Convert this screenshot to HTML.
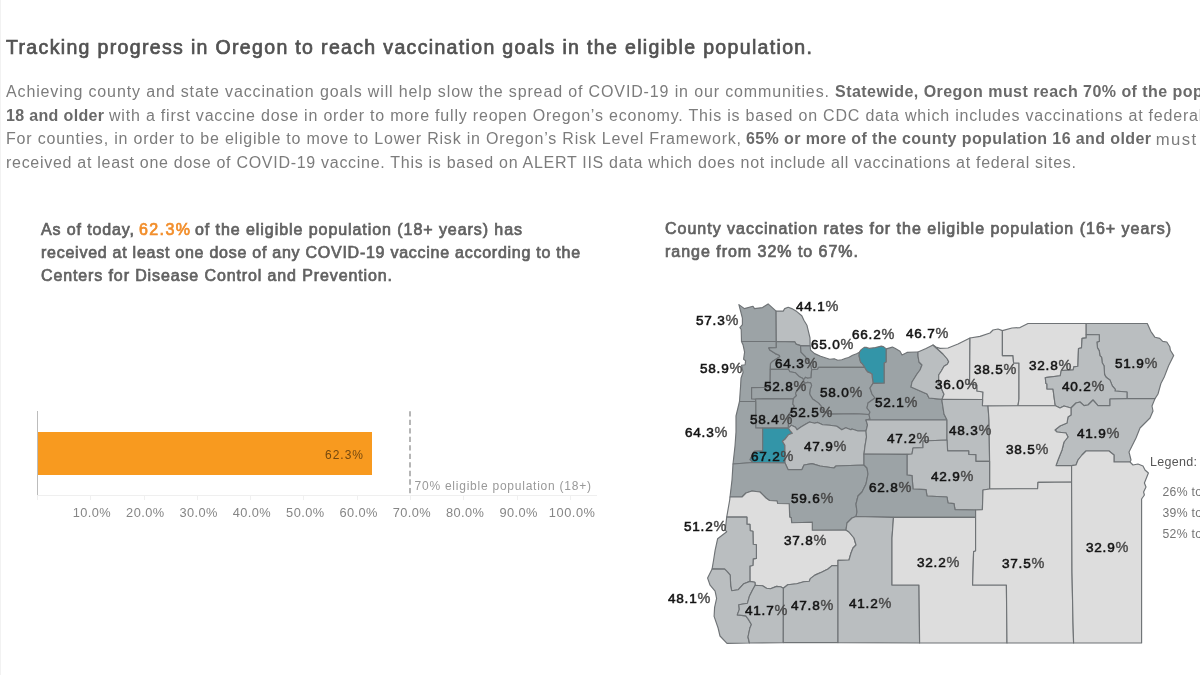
<!DOCTYPE html>
<html><head><meta charset="utf-8"><title>Oregon vaccination progress</title>
<style>
html,body{margin:0;padding:0;background:#fff;overflow:hidden}
body{width:1200px;height:675px;overflow:hidden;position:relative;font-family:"Liberation Sans",sans-serif}
.t{position:absolute;white-space:nowrap;line-height:1.149;font-family:"Liberation Sans",sans-serif}
</style></head><body>
<div style="position:absolute;left:0;top:0;width:1px;height:675px;background:#f2f2f2"></div>
<div style="position:absolute;left:37px;top:411px;width:1px;height:85px;background:#bcbcbc"></div>
<div style="position:absolute;left:37px;top:495px;width:560px;height:1px;background:#efefef"></div>
<div style="position:absolute;left:36.8px;top:496px;width:1px;height:4px;background:#f0f0f0"></div>
<div style="position:absolute;left:90.1px;top:496px;width:1px;height:4px;background:#f0f0f0"></div>
<div style="position:absolute;left:143.5px;top:496px;width:1px;height:4px;background:#f0f0f0"></div>
<div style="position:absolute;left:196.8px;top:496px;width:1px;height:4px;background:#f0f0f0"></div>
<div style="position:absolute;left:250.1px;top:496px;width:1px;height:4px;background:#f0f0f0"></div>
<div style="position:absolute;left:303.4px;top:496px;width:1px;height:4px;background:#f0f0f0"></div>
<div style="position:absolute;left:356.8px;top:496px;width:1px;height:4px;background:#f0f0f0"></div>
<div style="position:absolute;left:410.1px;top:496px;width:1px;height:4px;background:#f0f0f0"></div>
<div style="position:absolute;left:463.4px;top:496px;width:1px;height:4px;background:#f0f0f0"></div>
<div style="position:absolute;left:516.8px;top:496px;width:1px;height:4px;background:#f0f0f0"></div>
<div style="position:absolute;left:570.1px;top:496px;width:1px;height:4px;background:#f0f0f0"></div>
<div style="position:absolute;left:38px;top:432px;width:334px;height:42.5px;background:#f89a1f"></div>
<svg style="position:absolute;left:405px;top:408px" width="10" height="90"><line x1="5" y1="3.2" x2="5" y2="85.6" stroke="#a4a4a4" stroke-width="1.6" stroke-dasharray="5.3,3.22"/></svg>
<svg style="position:absolute;left:0;top:0" width="1200" height="675" viewBox="0 0 1200 675">
<g stroke="#6f7376" stroke-width="1.15" stroke-linejoin="round">
<polygon fill="#9ca3a6" points="738.9,304.6 744.4,308.6 753.0,306.3 754.5,308.6 762.5,307.6 768.1,303.9 776.1,311.1 776.3,341.5 741.5,341.5 741.2,329.3 739.9,327.7 742.4,324.7 742.4,318.2"/>
<polygon fill="#babec0" points="776.1,311.1 783.2,311.1 784.7,308.6 788.2,307.3 791.8,308.6 796.8,311.6 801.8,315.7 803.9,320.2 806.9,325.2 808.9,333.3 810.0,338.0 810.1,345.9 800.5,345.6 796.0,344.1 794.9,341.9 776.3,341.5"/>
<polygon fill="#9ca3a6" points="741.5,341.5 776.3,341.5 776.3,347.6 768.8,347.9 769.8,350.1 775.3,353.6 779.3,355.2 779.8,356.7 772.8,361.2 770.5,363.7 770.3,369.3 770.1,387.4 751.6,387.6 751.6,398.8 755.7,399.0 755.7,401.5 739.5,401.5 740.5,387.4 741.0,378.3 743.1,372.3 741.5,365.2 745.1,364.7 745.6,360.7 743.6,359.2 744.6,352.1 743.1,345.1"/>
<polygon fill="#9ca3a6" points="776.3,341.5 794.9,341.9 796.0,344.1 800.5,345.6 801.0,352.1 805.5,356.7 811.1,365.2 811.6,369.8 811.1,377.8 807.5,378.3 805.5,377.3 803.5,379.8 802.5,378.3 799.5,376.8 795.5,372.8 789.9,371.8 788.4,369.3 770.3,369.3 770.5,363.7 772.8,361.2 779.8,356.7 779.3,355.2 775.3,353.6 769.8,350.1 768.8,347.9 776.3,347.6"/>
<polygon fill="#9ca3a6" points="800.5,345.6 810.1,345.9 810.6,350.1 814.6,353.6 820.6,356.2 829.7,359.2 834.2,358.7 837.8,360.2 841.8,359.7 845.8,358.2 848.6,357.5 852.6,355.2 856.6,353.7 859.4,352.2 859.1,356.0 859.9,359.6 860.7,362.3 862.2,363.6 863.7,365.6 864.5,367.3 855.0,367.3 818.6,367.2 817.6,369.3 811.6,369.8 811.1,365.2 805.5,356.7 801.0,352.1"/>
<polygon fill="#3395a8" points="859.4,352.2 861.2,349.6 864.2,347.4 866.2,347.4 869.2,348.4 875.3,347.6 881.3,346.1 883.8,346.9 886.3,348.9 886.3,362.1 884.3,363.1 884.3,383.3 873.0,383.4 872.7,380.2 872.2,377.2 872.0,374.2 870.2,372.9 867.5,371.9 866.2,370.2 864.5,367.3 863.7,365.6 862.2,363.6 860.7,362.3 859.9,359.6 859.1,356.0"/>
<polygon fill="#9ca3a6" points="770.3,369.3 788.4,369.3 789.9,371.8 795.5,372.8 799.5,376.8 802.5,378.3 803.5,379.8 804.5,383.4 802.5,385.4 796.5,391.4 795.5,393.4 796.5,395.5 793.4,398.7 755.7,399.0 751.6,398.8 751.6,387.6 770.1,387.4"/>
<polygon fill="#9ca3a6" points="811.6,369.8 817.6,369.3 818.6,367.2 855.0,367.3 864.5,367.3 866.2,370.2 867.5,371.9 870.2,372.9 872.0,374.2 872.2,377.2 872.7,380.2 873.0,383.4 870.0,388.0 872.0,394.0 875.0,398.0 868.0,403.0 867.0,408.0 870.0,412.0 869.0,414.5 855.0,413.8 831.7,414.1 827.7,413.6 823.7,411.6 821.6,409.1 821.1,406.1 818.6,403.1 812.6,399.0 810.1,395.0 809.6,393.4 810.1,389.4 811.6,385.4 810.6,382.9 807.5,382.4 804.5,383.4 803.5,379.8 805.5,377.3 807.5,378.3 811.1,377.8"/>
<polygon fill="#9ca3a6" points="755.7,399.0 793.4,398.7 792.9,404.1 794.4,406.1 792.4,409.1 789.4,414.1 788.4,424.2 788.4,428.1 762.7,428.1 755.7,428.0 755.7,401.5"/>
<polygon fill="#9ca3a6" points="793.4,398.7 796.5,395.5 795.5,393.4 796.5,391.4 802.5,385.4 804.5,383.4 807.5,382.4 810.6,382.9 811.6,385.4 810.1,389.4 809.6,393.4 810.1,395.0 812.6,399.0 818.6,403.1 821.1,406.1 821.6,409.1 823.7,411.6 827.7,413.6 831.7,414.1 855.0,413.8 869.0,414.5 870.0,419.0 866.0,420.0 867.5,425.0 866.0,431.0 858.0,431.0 852.0,429.0 850.9,429.8 845.8,427.7 841.8,429.8 836.8,426.2 829.7,425.2 822.7,424.7 817.6,422.4 814.6,423.2 809.6,422.0 805.5,424.2 800.5,427.2 797.0,429.8 795.5,427.2 791.4,425.2 788.4,428.1 788.4,424.2 789.4,414.1 792.4,409.1 794.4,406.1 792.9,404.1"/>
<polygon fill="#9ca3a6" points="739.5,401.5 755.7,401.5 755.7,428.0 762.7,428.1 762.7,450.9 754.1,451.4 750.1,459.5 753.0,462.5 733.0,464.0 735.0,446.0 736.0,432.0 736.0,416.0"/>
<polygon fill="#3395a8" points="762.7,428.1 788.4,428.1 789.9,430.3 792.4,433.3 788.4,434.8 786.4,437.3 784.9,439.3 782.4,441.3 784.9,445.4 785.0,463.0 753.0,462.5 750.1,459.5 754.1,451.4 762.7,450.9"/>
<polygon fill="#babec0" points="788.4,428.1 791.4,425.2 795.5,427.2 797.0,429.8 800.5,427.2 805.5,424.2 809.6,422.0 814.6,423.2 817.6,422.4 822.7,424.7 829.7,425.2 836.8,426.2 841.8,429.8 845.8,427.7 850.9,429.8 852.0,429.0 858.0,431.0 866.0,431.0 866.5,437.0 865.0,446.0 864.0,454.0 864.0,465.0 836.0,466.0 834.0,468.0 820.0,466.0 812.0,463.6 804.0,465.0 802.0,469.6 788.0,469.6 785.0,463.0 784.9,445.4 782.4,441.3 784.9,439.3 786.4,437.3 788.4,434.8 792.4,433.3 789.9,430.3"/>
<polygon fill="#9ca3a6" points="733.0,464.0 753.0,462.5 785.0,463.0 788.0,469.6 802.0,469.6 804.0,465.0 812.0,463.6 820.0,466.0 834.0,468.0 836.0,466.0 864.0,465.0 867.0,468.0 868.0,474.0 866.0,484.0 862.0,492.0 858.0,496.0 856.0,504.0 857.0,512.0 856.0,516.5 852.0,518.0 847.0,523.0 846.0,530.0 812.3,530.2 812.3,522.2 791.7,522.7 791.2,517.6 789.7,517.1 789.2,503.8 777.6,503.5 777.1,501.0 769.5,500.5 766.0,498.0 760.0,492.0 752.0,491.0 746.0,493.0 742.0,497.0 730.0,497.0 732.0,480.0"/>
<polygon fill="#9ca3a6" points="886.3,348.9 892.4,347.1 895.4,348.6 900.0,351.2 902.0,355.0 907.0,352.4 916.0,352.0 918.0,352.0 918.0,356.0 919.0,362.0 922.0,365.0 920.0,370.0 917.0,374.0 912.0,382.0 911.0,387.0 927.0,394.0 929.0,398.0 942.0,399.4 942.0,401.0 944.0,414.0 947.0,420.0 866.0,420.0 870.0,419.0 869.0,414.5 870.0,412.0 867.0,408.0 868.0,403.0 875.0,398.0 872.0,394.0 870.0,388.0 873.0,383.4 884.3,383.3 884.3,363.1 886.3,362.1"/>
<polygon fill="#babec0" points="918.0,352.0 926.0,348.4 933.0,345.0 943.0,354.0 947.3,359.0 948.7,361.7 947.3,364.3 944.0,366.3 941.3,371.0 938.7,375.0 938.7,381.7 942.0,389.7 944.0,394.3 942.0,399.4 929.0,398.0 927.0,394.0 911.0,387.0 912.0,382.0 917.0,374.0 920.0,370.0 922.0,365.0 919.0,362.0 918.0,356.0"/>
<polygon fill="#dddddd" points="933.0,345.0 936.0,347.0 940.0,348.4 948.0,348.0 958.0,344.0 970.0,338.0 969.6,384.0 977.0,385.0 977.0,391.0 983.0,392.0 982.6,399.5 942.0,399.4 944.0,394.3 942.0,389.7 938.7,381.7 938.7,375.0 941.3,371.0 944.0,366.3 947.3,364.3 948.7,361.7 947.3,359.0 943.0,354.0"/>
<polygon fill="#dddddd" points="970.0,338.0 980.0,336.4 990.0,333.0 993.0,330.0 998.0,329.0 1002.4,330.6 1002.4,355.6 1013.0,355.6 1013.6,363.0 1019.0,363.0 1019.0,399.0 1018.0,405.7 988.0,406.0 982.4,405.8 982.6,399.5 983.0,392.0 977.0,391.0 977.0,385.0 969.6,384.0"/>
<polygon fill="#dddddd" points="1002.4,330.6 1012.0,328.0 1020.0,327.6 1028.0,323.5 1086.2,323.5 1086.2,334.5 1086.2,337.9 1082.1,338.4 1081.5,347.9 1078.5,348.5 1077.9,366.3 1073.8,366.9 1073.2,369.9 1061.3,370.5 1060.2,375.8 1045.3,377.6 1045.9,383.5 1047.0,384.0 1047.0,389.0 1053.0,389.0 1055.0,404.0 1055.5,405.7 1018.0,405.7 1019.0,399.0 1019.0,363.0 1013.6,363.0 1013.0,355.6 1002.4,355.6"/>
<polygon fill="#babec0" points="1086.2,323.5 1147.3,323.5 1150.8,331.3 1155.0,337.3 1159.7,338.4 1162.7,341.4 1166.8,342.0 1169.8,346.7 1170.4,350.3 1173.7,355.6 1168.6,365.7 1164.5,376.4 1160.9,383.5 1159.1,390.0 1158.0,394.0 1155.0,398.6 1127.0,398.6 1127.0,392.0 1115.0,391.0 1115.3,389.4 1112.3,385.9 1109.9,379.9 1106.4,377.6 1104.6,374.6 1104.0,365.7 1102.2,362.7 1101.6,357.4 1099.9,355.6 1099.3,350.9 1097.5,347.9 1096.9,342.0 1099.3,341.4 1099.3,334.7 1086.2,334.5"/>
<polygon fill="#babec0" points="1086.2,334.5 1099.3,334.7 1099.3,341.4 1096.9,342.0 1097.5,347.9 1099.3,350.9 1099.9,355.6 1101.6,357.4 1102.2,362.7 1104.0,365.7 1104.6,374.6 1106.4,377.6 1109.9,379.9 1112.3,385.9 1115.3,389.4 1115.0,391.0 1127.0,392.0 1127.0,398.6 1110.0,399.0 1110.0,405.6 1098.0,405.6 1093.0,400.0 1088.0,405.0 1084.0,405.6 1080.0,402.0 1076.0,403.0 1071.0,408.0 1064.0,406.0 1060.0,408.0 1055.5,405.7 1055.0,404.0 1053.0,389.0 1047.0,389.0 1047.0,384.0 1045.9,383.5 1045.3,377.6 1060.2,375.8 1061.3,370.5 1073.2,369.9 1073.8,366.9 1077.9,366.3 1078.5,348.5 1081.5,347.9 1082.1,338.4 1086.2,337.9"/>
<polygon fill="#babec0" points="1127.0,398.6 1155.0,398.6 1152.0,406.0 1153.0,411.0 1150.0,418.0 1144.0,424.0 1140.0,428.0 1136.0,438.0 1132.0,446.0 1129.0,452.0 1131.0,460.0 1130.0,462.0 1114.0,462.0 1114.0,455.0 1109.0,451.0 1086.0,451.0 1082.0,455.0 1078.0,460.0 1076.0,465.0 1071.6,465.6 1056.0,465.6 1058.0,460.0 1062.0,450.0 1064.0,442.0 1068.0,437.0 1066.0,433.0 1057.0,432.0 1055.0,430.0 1060.0,426.0 1067.0,423.0 1068.0,417.0 1071.0,415.0 1071.0,408.0 1076.0,403.0 1080.0,402.0 1084.0,405.6 1088.0,405.0 1093.0,400.0 1098.0,405.6 1110.0,405.6 1110.0,399.0"/>
<polygon fill="#babec0" points="866.0,420.0 947.0,420.0 947.0,440.0 923.0,441.0 923.0,447.6 913.0,448.0 912.0,454.0 907.0,454.4 864.0,454.0 865.0,446.0 866.5,437.0 866.0,431.0 867.5,425.0"/>
<polygon fill="#babec0" points="942.0,399.4 982.6,399.5 982.4,405.8 988.0,406.0 989.0,420.0 989.6,461.3 975.8,461.3 975.8,454.6 968.7,454.4 968.7,450.8 947.6,450.8 947.0,440.0 947.0,420.0 944.0,414.0 942.0,401.0"/>
<polygon fill="#dddddd" points="988.0,406.0 1018.0,405.7 1055.5,405.7 1060.0,408.0 1064.0,406.0 1071.0,408.0 1071.0,415.0 1068.0,417.0 1067.0,423.0 1060.0,426.0 1055.0,430.0 1057.0,432.0 1066.0,433.0 1068.0,437.0 1064.0,442.0 1062.0,450.0 1058.0,460.0 1056.0,465.6 1071.6,465.6 1071.6,482.0 1038.0,482.4 1037.6,488.6 989.6,489.0 989.6,461.3 989.0,420.0"/>
<polygon fill="#babec0" points="947.0,440.0 947.6,450.8 968.7,450.8 968.7,454.4 975.8,454.6 975.8,461.3 989.6,461.3 989.6,489.0 983.0,490.0 982.4,509.6 975.6,510.0 955.0,509.6 954.0,503.6 948.0,503.0 947.0,497.0 927.0,496.0 926.0,489.6 913.0,489.0 912.0,475.6 907.0,475.0 907.0,454.4 912.0,454.0 913.0,448.0 923.0,447.6 923.0,441.0"/>
<polygon fill="#9ca3a6" points="864.0,454.0 907.0,454.4 907.0,475.0 912.0,475.6 913.0,489.0 926.0,489.6 927.0,496.0 947.0,497.0 948.0,503.0 954.0,503.6 955.0,509.6 975.6,510.0 975.6,517.2 893.5,517.4 856.0,516.5 857.0,512.0 856.0,504.0 858.0,496.0 862.0,492.0 866.0,484.0 868.0,474.0 867.0,468.0 864.0,465.0"/>
<polygon fill="#dddddd" points="730.0,497.0 742.0,497.0 746.0,493.0 752.0,491.0 760.0,492.0 766.0,498.0 769.5,500.5 777.1,501.0 777.6,503.5 789.2,503.8 789.7,517.1 791.2,517.6 791.7,522.7 812.3,522.2 812.3,530.2 846.0,530.0 849.0,532.0 854.0,538.0 856.0,545.0 853.0,548.0 851.0,553.0 849.0,560.0 838.0,560.4 838.0,565.6 832.0,565.6 828.0,569.0 822.0,572.0 814.9,575.1 810.3,578.6 809.3,581.2 803.8,581.7 796.7,583.7 787.7,584.7 783.4,588.2 780.6,586.7 776.6,586.4 770.5,588.7 766.5,588.2 762.5,585.7 755.2,585.2 754.9,582.2 749.9,581.4 749.9,566.0 752.9,565.5 753.2,558.9 756.4,558.4 756.4,544.8 753.2,544.3 752.9,531.2 750.2,530.7 749.9,524.4 746.9,524.2 746.9,517.1 726.7,517.1 729.7,500.0"/>
<polygon fill="#babec0" points="726.7,517.1 746.9,517.1 746.9,524.2 749.9,524.4 750.2,530.7 752.9,531.2 753.2,544.3 756.4,544.8 756.4,558.4 753.2,558.9 752.9,565.5 749.9,566.0 749.9,581.4 743.8,583.7 738.3,589.7 731.7,590.7 730.7,586.2 730.2,575.1 727.2,571.6 724.7,569.1 712.1,568.9 713.6,560.0 715.1,550.4 717.6,538.8 720.2,536.8 726.7,531.7 725.2,530.2"/>
<polygon fill="#babec0" points="712.1,568.9 724.7,569.1 727.2,571.6 730.2,575.1 730.7,586.2 731.7,590.7 738.3,589.7 743.8,583.7 749.9,581.4 754.9,582.2 755.2,585.2 752.4,590.2 749.4,596.3 747.4,603.3 738.8,604.8 739.3,609.4 737.3,614.9 745.8,615.9 748.4,619.4 751.4,624.5 749.9,628.0 748.0,637.0 749.4,643.0 727.0,643.4 720.0,636.0 718.1,628.0 714.1,616.4 714.6,607.4 716.6,598.3 715.1,591.2 710.1,585.2 707.6,578.1"/>
<polygon fill="#babec0" points="755.2,585.2 762.5,585.7 766.5,588.2 770.5,588.7 776.6,586.4 780.6,586.7 783.4,588.2 783.3,642.6 749.4,643.0 748.0,637.0 749.9,628.0 751.4,624.5 748.4,619.4 745.8,615.9 737.3,614.9 739.3,609.4 738.8,604.8 747.4,603.3 749.4,596.3 752.4,590.2"/>
<polygon fill="#babec0" points="783.4,588.2 787.7,584.7 796.7,583.7 803.8,581.7 809.3,581.2 810.3,578.6 814.9,575.1 822.0,572.0 828.0,569.0 832.0,565.6 838.0,565.6 838.0,642.6 783.3,642.6"/>
<polygon fill="#babec0" points="838.0,565.6 838.0,560.4 849.0,560.0 851.0,553.0 853.0,548.0 856.0,545.0 854.0,538.0 849.0,532.0 846.0,530.0 847.0,523.0 852.0,518.0 856.0,516.5 893.5,517.4 892.0,538.0 892.0,585.0 919.0,585.0 919.6,643.0 838.0,642.6"/>
<polygon fill="#dddddd" points="893.5,517.4 975.6,517.2 975.6,551.0 973.6,551.6 972.6,585.0 1006.4,585.0 1007.0,643.0 919.6,643.0 919.0,585.0 892.0,585.0 892.0,538.0"/>
<polygon fill="#dddddd" points="989.6,489.0 1037.6,488.6 1038.0,482.4 1071.6,482.0 1072.0,572.0 1073.0,622.0 1073.6,643.0 1007.0,643.0 1006.4,585.0 972.6,585.0 973.6,551.6 975.6,551.0 975.6,517.2 975.6,510.0 982.4,509.6 983.0,490.0"/>
<polygon fill="#dddddd" points="1071.6,465.6 1076.0,465.0 1078.0,460.0 1082.0,455.0 1086.0,451.0 1109.0,451.0 1114.0,455.0 1114.0,462.0 1130.0,462.0 1133.0,465.0 1138.0,464.0 1143.0,466.0 1145.0,470.0 1148.4,473.0 1146.0,479.0 1144.4,483.0 1146.0,487.0 1143.6,492.0 1144.4,495.0 1141.6,499.0 1141.6,643.0 1073.6,643.0 1073.0,622.0 1072.0,572.0 1071.6,482.0"/>
</g>
<g font-family="Liberation Sans, sans-serif" font-size="13.6" style="filter:grayscale(1)">
<text x="696" y="324.8" letter-spacing="0.75" fill="#141414" stroke="#141414" stroke-width="0.55">57.3<tspan fill="#4a4a4a" stroke="#4a4a4a" stroke-width="0.4" font-size="14.5">%</tspan></text>
<text x="796" y="310.8" letter-spacing="0.75" fill="#141414" stroke="#141414" stroke-width="0.55">44.1<tspan fill="#4a4a4a" stroke="#4a4a4a" stroke-width="0.4" font-size="14.5">%</tspan></text>
<text x="700" y="372.8" letter-spacing="0.75" fill="#141414" stroke="#141414" stroke-width="0.55">58.9<tspan fill="#4a4a4a" stroke="#4a4a4a" stroke-width="0.4" font-size="14.5">%</tspan></text>
<text x="811" y="348.8" letter-spacing="0.75" fill="#141414" stroke="#141414" stroke-width="0.55">65.0<tspan fill="#4a4a4a" stroke="#4a4a4a" stroke-width="0.4" font-size="14.5">%</tspan></text>
<text x="852" y="338.8" letter-spacing="0.75" fill="#141414" stroke="#141414" stroke-width="0.55">66.2<tspan fill="#4a4a4a" stroke="#4a4a4a" stroke-width="0.4" font-size="14.5">%</tspan></text>
<text x="906" y="337.8" letter-spacing="0.75" fill="#141414" stroke="#141414" stroke-width="0.55">46.7<tspan fill="#4a4a4a" stroke="#4a4a4a" stroke-width="0.4" font-size="14.5">%</tspan></text>
<text x="775" y="367.8" letter-spacing="0.75" fill="#141414" stroke="#141414" stroke-width="0.55">64.3<tspan fill="#4a4a4a" stroke="#4a4a4a" stroke-width="0.4" font-size="14.5">%</tspan></text>
<text x="764" y="390.8" letter-spacing="0.75" fill="#141414" stroke="#141414" stroke-width="0.55">52.8<tspan fill="#4a4a4a" stroke="#4a4a4a" stroke-width="0.4" font-size="14.5">%</tspan></text>
<text x="820" y="396.8" letter-spacing="0.75" fill="#141414" stroke="#141414" stroke-width="0.55">58.0<tspan fill="#4a4a4a" stroke="#4a4a4a" stroke-width="0.4" font-size="14.5">%</tspan></text>
<text x="790" y="416.8" letter-spacing="0.75" fill="#141414" stroke="#141414" stroke-width="0.55">52.5<tspan fill="#4a4a4a" stroke="#4a4a4a" stroke-width="0.4" font-size="14.5">%</tspan></text>
<text x="750" y="423.8" letter-spacing="0.75" fill="#141414" stroke="#141414" stroke-width="0.55">58.4<tspan fill="#4a4a4a" stroke="#4a4a4a" stroke-width="0.4" font-size="14.5">%</tspan></text>
<text x="875" y="406.8" letter-spacing="0.75" fill="#141414" stroke="#141414" stroke-width="0.55">52.1<tspan fill="#4a4a4a" stroke="#4a4a4a" stroke-width="0.4" font-size="14.5">%</tspan></text>
<text x="935" y="388.8" letter-spacing="0.75" fill="#141414" stroke="#141414" stroke-width="0.55">36.0<tspan fill="#4a4a4a" stroke="#4a4a4a" stroke-width="0.4" font-size="14.5">%</tspan></text>
<text x="974" y="373.8" letter-spacing="0.75" fill="#141414" stroke="#141414" stroke-width="0.55">38.5<tspan fill="#4a4a4a" stroke="#4a4a4a" stroke-width="0.4" font-size="14.5">%</tspan></text>
<text x="1029" y="369.8" letter-spacing="0.75" fill="#141414" stroke="#141414" stroke-width="0.55">32.8<tspan fill="#4a4a4a" stroke="#4a4a4a" stroke-width="0.4" font-size="14.5">%</tspan></text>
<text x="1062" y="390.8" letter-spacing="0.75" fill="#141414" stroke="#141414" stroke-width="0.55">40.2<tspan fill="#4a4a4a" stroke="#4a4a4a" stroke-width="0.4" font-size="14.5">%</tspan></text>
<text x="1115" y="367.8" letter-spacing="0.75" fill="#141414" stroke="#141414" stroke-width="0.55">51.9<tspan fill="#4a4a4a" stroke="#4a4a4a" stroke-width="0.4" font-size="14.5">%</tspan></text>
<text x="685" y="436.8" letter-spacing="0.75" fill="#141414" stroke="#141414" stroke-width="0.55">64.3<tspan fill="#4a4a4a" stroke="#4a4a4a" stroke-width="0.4" font-size="14.5">%</tspan></text>
<text x="751" y="460.8" letter-spacing="0.75" fill="#141414" stroke="#141414" stroke-width="0.55">67.2<tspan fill="#4a4a4a" stroke="#4a4a4a" stroke-width="0.4" font-size="14.5">%</tspan></text>
<text x="804" y="450.8" letter-spacing="0.75" fill="#141414" stroke="#141414" stroke-width="0.55">47.9<tspan fill="#4a4a4a" stroke="#4a4a4a" stroke-width="0.4" font-size="14.5">%</tspan></text>
<text x="887" y="442.8" letter-spacing="0.75" fill="#141414" stroke="#141414" stroke-width="0.55">47.2<tspan fill="#4a4a4a" stroke="#4a4a4a" stroke-width="0.4" font-size="14.5">%</tspan></text>
<text x="949" y="435.1" letter-spacing="0.75" fill="#141414" stroke="#141414" stroke-width="0.55">48.3<tspan fill="#4a4a4a" stroke="#4a4a4a" stroke-width="0.4" font-size="14.5">%</tspan></text>
<text x="931" y="481.1" letter-spacing="0.75" fill="#141414" stroke="#141414" stroke-width="0.55">42.9<tspan fill="#4a4a4a" stroke="#4a4a4a" stroke-width="0.4" font-size="14.5">%</tspan></text>
<text x="1006" y="453.8" letter-spacing="0.75" fill="#141414" stroke="#141414" stroke-width="0.55">38.5<tspan fill="#4a4a4a" stroke="#4a4a4a" stroke-width="0.4" font-size="14.5">%</tspan></text>
<text x="1077" y="437.8" letter-spacing="0.75" fill="#141414" stroke="#141414" stroke-width="0.55">41.9<tspan fill="#4a4a4a" stroke="#4a4a4a" stroke-width="0.4" font-size="14.5">%</tspan></text>
<text x="869" y="491.8" letter-spacing="0.75" fill="#141414" stroke="#141414" stroke-width="0.55">62.8<tspan fill="#4a4a4a" stroke="#4a4a4a" stroke-width="0.4" font-size="14.5">%</tspan></text>
<text x="791" y="502.8" letter-spacing="0.75" fill="#141414" stroke="#141414" stroke-width="0.55">59.6<tspan fill="#4a4a4a" stroke="#4a4a4a" stroke-width="0.4" font-size="14.5">%</tspan></text>
<text x="684" y="530.8" letter-spacing="0.75" fill="#141414" stroke="#141414" stroke-width="0.55">51.2<tspan fill="#4a4a4a" stroke="#4a4a4a" stroke-width="0.4" font-size="14.5">%</tspan></text>
<text x="784" y="544.8" letter-spacing="0.75" fill="#141414" stroke="#141414" stroke-width="0.55">37.8<tspan fill="#4a4a4a" stroke="#4a4a4a" stroke-width="0.4" font-size="14.5">%</tspan></text>
<text x="917" y="566.8" letter-spacing="0.75" fill="#141414" stroke="#141414" stroke-width="0.55">32.2<tspan fill="#4a4a4a" stroke="#4a4a4a" stroke-width="0.4" font-size="14.5">%</tspan></text>
<text x="1002" y="568.2" letter-spacing="0.75" fill="#141414" stroke="#141414" stroke-width="0.55">37.5<tspan fill="#4a4a4a" stroke="#4a4a4a" stroke-width="0.4" font-size="14.5">%</tspan></text>
<text x="1086" y="552.2" letter-spacing="0.75" fill="#141414" stroke="#141414" stroke-width="0.55">32.9<tspan fill="#4a4a4a" stroke="#4a4a4a" stroke-width="0.4" font-size="14.5">%</tspan></text>
<text x="668" y="602.8" letter-spacing="0.75" fill="#141414" stroke="#141414" stroke-width="0.55">48.1<tspan fill="#4a4a4a" stroke="#4a4a4a" stroke-width="0.4" font-size="14.5">%</tspan></text>
<text x="745" y="614.8" letter-spacing="0.75" fill="#141414" stroke="#141414" stroke-width="0.55">41.7<tspan fill="#4a4a4a" stroke="#4a4a4a" stroke-width="0.4" font-size="14.5">%</tspan></text>
<text x="791" y="609.8" letter-spacing="0.75" fill="#141414" stroke="#141414" stroke-width="0.55">47.8<tspan fill="#4a4a4a" stroke="#4a4a4a" stroke-width="0.4" font-size="14.5">%</tspan></text>
<text x="849" y="607.8" letter-spacing="0.75" fill="#141414" stroke="#141414" stroke-width="0.55">41.2<tspan fill="#4a4a4a" stroke="#4a4a4a" stroke-width="0.4" font-size="14.5">%</tspan></text>
</g></svg>
<div id="txt" style="position:absolute;left:0;top:0;width:1200px;height:675px;overflow:hidden;will-change:transform">
<span class="t" style="left:6.0px;top:35.7px;font-size:19.5px;color:#525252;letter-spacing:1.341px;-webkit-text-stroke:0.7px #525252;">Tracking progress in Oregon to reach vaccination goals in the eligible population.</span>
<span class="t" style="left:6.0px;top:83.0px;font-size:16px;color:#7c7c7c;letter-spacing:0.866px;">Achieving county and state vaccination goals will help slow the spread of COVID-19 in our communities.</span>
<span class="t" style="left:835.0px;top:83.0px;font-size:16px;font-weight:bold;color:#6a6a6a;letter-spacing:0.460px;">Statewide, Oregon must reach 70% of the population</span>
<span class="t" style="left:6.0px;top:106.7px;font-size:16px;font-weight:bold;color:#6a6a6a;letter-spacing:0.341px;">18 and older</span>
<span class="t" style="left:109.0px;top:106.7px;font-size:16px;color:#7c7c7c;letter-spacing:0.801px;">with a first vaccine dose in order to more fully reopen Oregon’s economy. This is based on CDC data which includes vaccinations at federal sites.</span>
<span class="t" style="left:6.0px;top:130.3px;font-size:16px;color:#7c7c7c;letter-spacing:0.801px;">For counties, in order to be eligible to move to Lower Risk in Oregon’s Risk Level Framework,</span>
<span class="t" style="left:746.0px;top:130.3px;font-size:16px;font-weight:bold;color:#6a6a6a;letter-spacing:0.400px;">65% or more of the county population 16 and older</span>
<span class="t" style="left:1155.8px;top:129.7px;font-size:16.7px;color:#7c7c7c;letter-spacing:1.404px;">must</span>
<span class="t" style="left:6.0px;top:153.9px;font-size:16px;color:#7c7c7c;letter-spacing:0.713px;">received at least one dose of COVID-19 vaccine. This is based on ALERT IIS data which does not include all vaccinations at federal sites.</span>
<span class="t" style="left:41.0px;top:220.7px;font-size:16px;color:#626262;letter-spacing:0.881px;-webkit-text-stroke:0.7px #626262;">As of today,</span>
<span class="t" style="left:139.0px;top:220.7px;font-size:16px;color:#f28e2b;letter-spacing:1.408px;-webkit-text-stroke:0.7px #f28e2b;">62.3%</span>
<span class="t" style="left:195.0px;top:220.7px;font-size:16px;color:#626262;letter-spacing:0.936px;-webkit-text-stroke:0.7px #626262;">of the eligible population (18+ years) has</span>
<span class="t" style="left:41.0px;top:243.7px;font-size:16px;color:#626262;letter-spacing:0.742px;-webkit-text-stroke:0.7px #626262;">received at least one dose of any COVID-19 vaccine according to the</span>
<span class="t" style="left:41.0px;top:266.7px;font-size:16px;color:#626262;letter-spacing:0.882px;-webkit-text-stroke:0.7px #626262;">Centers for Disease Control and Prevention.</span>
<span class="t" style="left:665.0px;top:219.7px;font-size:16px;color:#626262;letter-spacing:0.994px;-webkit-text-stroke:0.7px #626262;">County vaccination rates for the eligible population (16+ years)</span>
<span class="t" style="left:665.0px;top:242.7px;font-size:16px;color:#626262;letter-spacing:0.974px;-webkit-text-stroke:0.7px #626262;">range from 32% to 67%.</span>
<span class="t" style="left:325.0px;top:449.1px;font-size:12px;color:#75490f;letter-spacing:0.994px;">62.3%</span>
<span class="t" style="left:414.5px;top:480.4px;font-size:12px;color:#999999;letter-spacing:0.764px;">70% eligible population (18+)</span>
<span class="t" style="left:72.7px;top:505.8px;font-size:12.8px;color:#868686;letter-spacing:0.427px;">10.0%</span>
<span class="t" style="left:126.1px;top:505.8px;font-size:12.8px;color:#868686;letter-spacing:0.427px;">20.0%</span>
<span class="t" style="left:179.4px;top:505.8px;font-size:12.8px;color:#868686;letter-spacing:0.427px;">30.0%</span>
<span class="t" style="left:232.7px;top:505.8px;font-size:12.8px;color:#868686;letter-spacing:0.427px;">40.0%</span>
<span class="t" style="left:286.1px;top:505.8px;font-size:12.8px;color:#868686;letter-spacing:0.427px;">50.0%</span>
<span class="t" style="left:339.4px;top:505.8px;font-size:12.8px;color:#868686;letter-spacing:0.427px;">60.0%</span>
<span class="t" style="left:392.7px;top:505.8px;font-size:12.8px;color:#868686;letter-spacing:0.427px;">70.0%</span>
<span class="t" style="left:446.0px;top:505.8px;font-size:12.8px;color:#868686;letter-spacing:0.427px;">80.0%</span>
<span class="t" style="left:499.4px;top:505.8px;font-size:12.8px;color:#868686;letter-spacing:0.427px;">90.0%</span>
<span class="t" style="left:548.8px;top:505.8px;font-size:12.8px;color:#868686;letter-spacing:0.558px;">100.0%</span>
<span class="t" style="left:1150.0px;top:454.5px;font-size:12.5px;color:#565656;letter-spacing:0.303px;">Legend:</span>
<span class="t" style="left:1162.5px;top:485.0px;font-size:12.2px;color:#757575;letter-spacing:0.304px;">26% to</span>
<span class="t" style="left:1162.5px;top:506.0px;font-size:12.2px;color:#757575;letter-spacing:0.304px;">39% to</span>
<span class="t" style="left:1162.5px;top:527.2px;font-size:12.2px;color:#757575;letter-spacing:0.304px;">52% to</span>
</div>
</body></html>
